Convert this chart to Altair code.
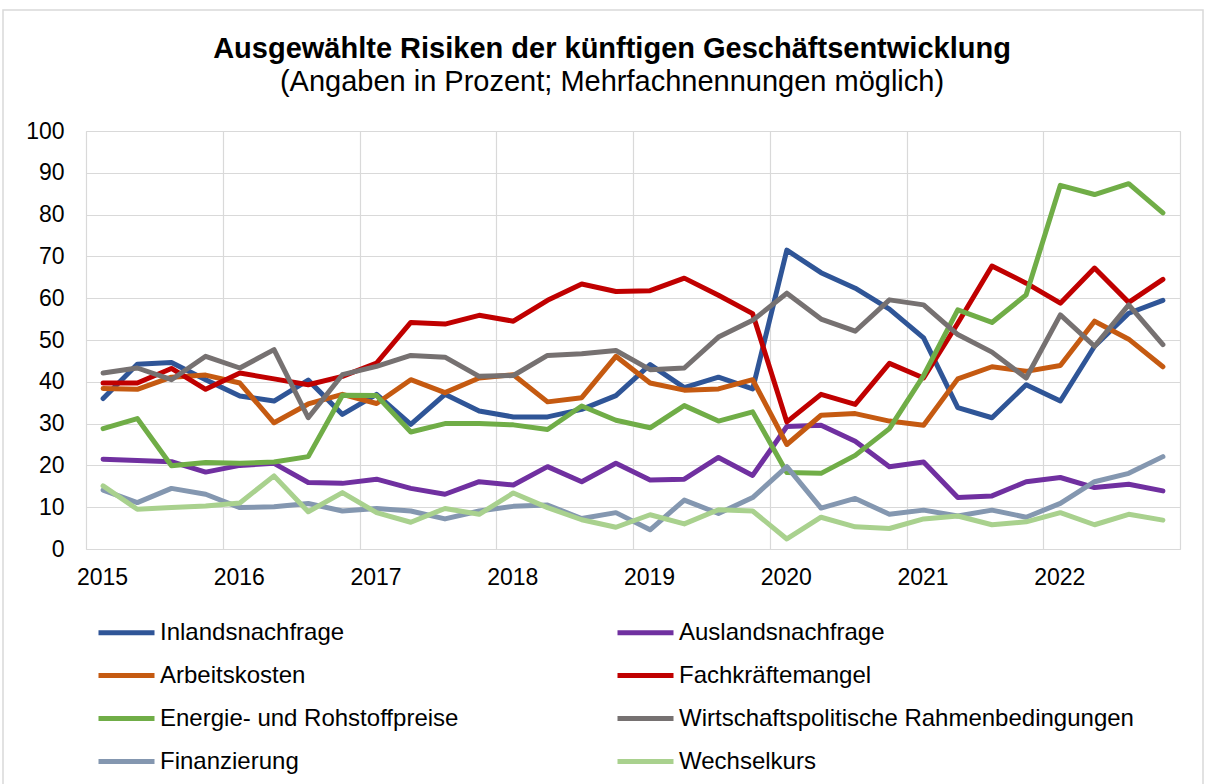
import json
import altair as alt
import pandas as pd

years = ["2015", "2016", "2017", "2018", "2019", "2020", "2021", "2022"]

series_names = [
    "Inlandsnachfrage",
    "Auslandsnachfrage",
    "Arbeitskosten",
    "Fachkräftemangel",
    "Energie- und Rohstoffpreise",
    "Wirtschaftspolitische Rahmenbedingungen",
    "Finanzierung",
    "Wechselkurs",
]
series_colors = ["#2F5597", "#7030A0", "#C55A11", "#C00000", "#70AD47", "#767171", "#8497B0", "#A9D18E"]
series_widths = [5, 5, 5, 5, 7.5, 5, 5, 5]

inlandsnachfrage = [36.0, 44.2, 44.6, 40.5, 36.6, 35.4, 40.4, 32.2, 37.0, 29.8, 37.0, 33.0, 31.6, 31.6, 33.4, 36.7,
                    44.1, 38.6, 41.1, 38.3, 71.5, 66.1, 62.4, 57.4, 50.5, 33.8, 31.4, 39.3, 35.4, 48.5, 56.4, 59.5]
auslandsnachfrage = [21.5, 21.2, 20.9, 18.4, 20.0, 20.5, 15.9, 15.7, 16.7, 14.5, 13.1, 16.1, 15.3, 19.7, 16.1, 20.5,
                     16.5, 16.7, 21.9, 17.6, 29.3, 29.6, 25.8, 19.7, 20.8, 12.3, 12.7, 16.1, 17.1, 14.7, 15.5, 13.9]
arbeitskosten = [38.4, 38.2, 41.1, 41.6, 39.7, 30.2, 34.7, 37.0, 34.8, 40.5, 37.4, 40.9, 41.7, 35.2, 36.2, 46.1,
                 39.7, 38.0, 38.3, 40.5, 25.0, 32.0, 32.4, 30.6, 29.6, 40.7, 43.6, 42.5, 43.9, 54.5, 50.2, 43.6]
fachkraeftemangel = [39.7, 39.7, 43.2, 38.2, 42.1, 40.7, 39.3, 41.3, 44.5, 54.2, 53.8, 55.9, 54.5, 59.5, 63.4, 61.6,
                     61.8, 64.8, 60.7, 56.3, 30.4, 37.0, 34.6, 44.4, 40.9, 54.0, 67.7, 63.6, 58.8, 67.2, 59.0, 64.5]
energie = [28.8, 31.2, 19.9, 20.7, 20.5, 20.8, 22.1, 36.8, 36.7, 28.0, 30.0, 30.0, 29.7, 28.6, 34.2, 30.8,
           29.0, 34.3, 30.6, 32.8, 18.3, 18.1, 22.4, 28.8, 41.5, 57.2, 54.2, 60.8, 87.0, 84.8, 87.4, 80.4]
wirtschaftspolitik = [42.1, 43.3, 40.5, 46.1, 43.3, 47.7, 31.4, 41.7, 43.7, 46.3, 45.9, 41.3, 41.5, 46.3, 46.7, 47.5,
                      42.9, 43.3, 50.7, 54.7, 61.2, 55.0, 52.1, 59.6, 58.4, 51.3, 47.1, 40.9, 56.0, 48.5, 58.4, 48.9]
finanzierung = [14.1, 11.1, 14.5, 13.1, 9.9, 10.1, 10.9, 9.1, 9.7, 9.1, 7.2, 9.1, 10.2, 10.5, 7.3, 8.7,
                4.6, 11.7, 8.5, 12.3, 19.7, 9.8, 12.1, 8.3, 9.3, 7.9, 9.3, 7.6, 10.9, 16.1, 18.1, 22.1]
wechselkurs = [15.1, 9.5, 9.9, 10.3, 11.0, 17.5, 8.9, 13.5, 8.7, 6.4, 9.7, 8.3, 13.4, 9.9, 7.0, 5.2,
               8.2, 6.0, 9.4, 9.1, 2.4, 7.6, 5.3, 4.9, 7.2, 7.9, 5.8, 6.5, 8.7, 5.8, 8.3, 6.9]

all_series = [inlandsnachfrage, auslandsnachfrage, arbeitskosten, fachkraeftemangel,
              energie, wirtschaftspolitik, finanzierung, wechselkurs]

rows = []
for name, vals in zip(series_names, all_series):
    for i, v in enumerate(vals):
        rows.append({"series": name, "i": i, "value": v})
df = pd.DataFrame(rows)

n = len(inlandsnachfrage)
boundaries = [-0.5 + 4 * k for k in range(n // 4 + 1)]
label_expr = json.dumps(years) + "[(datum.value + 0.5) / 4] || ''"

FONT = "Liberation Sans"

legend = alt.Legend(
    title=None,
    orient="none",
    legendX=10,
    legendY=471,
    columns=2,
    direction="horizontal",
    symbolType="stroke",
    symbolSize=3136,
    labelFontSize=24,
    labelFont=FONT,
    labelColor="black",
    labelOffset=3,
    labelLimit=700,
    columnPadding=148,
    rowPadding=-1,
    padding=0,
)

lines = alt.Chart(df).mark_line(strokeCap="round", strokeJoin="round").encode(
    x=alt.X(
        "i:Q",
        scale=alt.Scale(domain=[-0.5, n - 0.5], nice=False, zero=False),
        axis=alt.Axis(
            values=boundaries,
            labelExpr=label_expr,
            labelOffset=16,
            labelFlush=False,
            labelOverlap=False,
            labelFont=FONT,
            labelFontSize=23,
            labelColor="black",
            grid=True,
            gridColor="#D9D9D9",
            gridWidth=1.2,
            ticks=False,
            domain=False,
            title=None,
            labelPadding=17,
        ),
    ),
    y=alt.Y(
        "value:Q",
        scale=alt.Scale(domain=[0, 100], nice=False),
        axis=alt.Axis(
            values=list(range(0, 101, 10)),
            labelFont=FONT,
            labelFontSize=23,
            labelColor="black",
            grid=True,
            gridColor="#D9D9D9",
            gridWidth=1.2,
            ticks=False,
            domain=False,
            title=None,
            labelPadding=22,
            labelFlush=False,
        ),
    ),
    color=alt.Color(
        "series:N",
        scale=alt.Scale(domain=series_names, range=series_colors),
        sort=series_names,
        legend=legend,
    ),
    strokeWidth=alt.StrokeWidth(
        "series:N",
        scale=alt.Scale(domain=series_names, range=series_widths),
        sort=series_names,
        legend=legend,
    ),
    order=alt.Order("i:Q"),
)

# light outer frame of the chart area
frame = alt.Chart(pd.DataFrame({"f": [0]})).mark_rect(
    fill=None, stroke="#D9D9D9", strokeWidth=1.5
).encode(
    x=alt.value(-83), x2=alt.value(1117), y=alt.value(-121), y2=alt.value(660)
)

chart = alt.layer(frame, lines).properties(
    width=1094,
    height=418,
    autosize=alt.AutoSizeParams(type="none"),
    padding={"left": 86, "top": 131, "right": 25, "bottom": 235},
    title=alt.TitleParams(
        text="Ausgewählte Risiken der künftigen Geschäftsentwicklung",
        subtitle="(Angaben in Prozent; Mehrfachnennungen möglich)",
        font=FONT,
        fontSize=29,
        fontWeight="bold",
        color="black",
        subtitleFont=FONT,
        subtitleFontSize=29,
        subtitleColor="black",
        subtitlePadding=4,
        anchor="middle",
        dx=-21,
        dy=112,
        offset=24,
    ),
).configure_view(
    stroke=None
).configure(background="white")

chart.save("out.html", embed_options={"renderer": "svg", "actions": False})
